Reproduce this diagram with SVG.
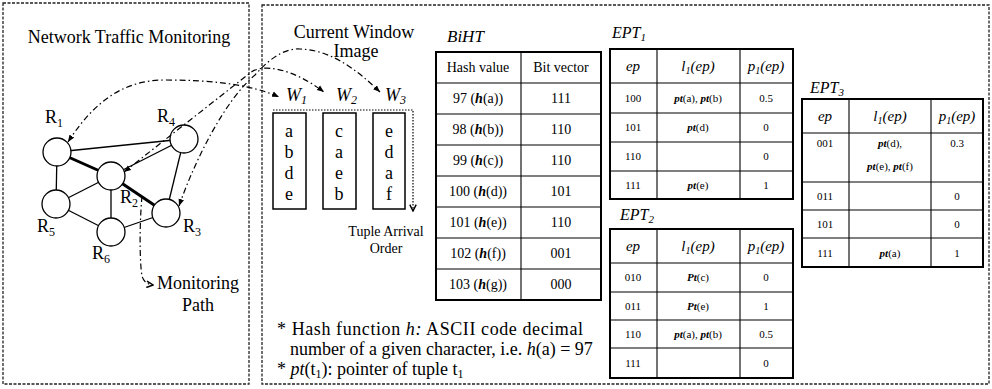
<svg xmlns="http://www.w3.org/2000/svg" width="992" height="389" viewBox="0 0 992 389" font-family="'Liberation Serif', 'DejaVu Serif', 'Times New Roman', serif">
<defs>
<style>
text{font-family:'Liberation Serif','DejaVu Serif','Times New Roman',serif;fill:#000}
.big{font-size:18px}
.mid{font-size:14px}
.sm{font-size:11px}
.hd{font-size:15px;font-style:italic}
.it{font-style:italic}
.bi{font-style:italic;font-weight:bold}
.panel{fill:none;stroke:#222;stroke-width:1.3;stroke-dasharray:3 1.5}
.edge{stroke:#000;stroke-width:1.3;fill:none}
.thick{stroke:#000;stroke-width:3;fill:none}
.node{fill:#fff;stroke:#000;stroke-width:1.3}
.mon{fill:none;stroke:#000;stroke-width:1.2;stroke-dasharray:6 3 1.5 3}
.win{fill:#fff;stroke:#000;stroke-width:1.5}
.outer{fill:none;stroke:#000;stroke-width:2}
.inner{stroke:#000;stroke-width:1.1}
</style>
<marker id="tri" viewBox="0 0 10 10" refX="10" refY="5" markerWidth="7" markerHeight="7" markerUnits="userSpaceOnUse" orient="auto-start-reverse">
<path d="M0,1 L10,5 L0,9 z" fill="#000"/>
</marker>
<marker id="chev" viewBox="0 0 10 10" refX="9" refY="5" markerWidth="8" markerHeight="8" markerUnits="userSpaceOnUse" orient="auto">
<path d="M1,1 L9,5 L1,9" fill="none" stroke="#000" stroke-width="1.8"/>
</marker>
</defs>

<!-- panels -->
<rect class="panel" x="3" y="3" width="246" height="381"/>
<rect class="panel" x="262" y="5" width="727" height="379"/>

<text class="big" x="129" y="43" text-anchor="middle">Network Traffic Monitoring</text>

<g id="connectors">
<line class="edge" x1="57" y1="152" x2="184" y2="139"/>
<line class="thick" x1="57" y1="152" x2="111" y2="176"/>
<line class="edge" x1="57" y1="152" x2="56" y2="204"/>
<line class="edge" x1="184" y1="139" x2="111" y2="176"/>
<line class="edge" x1="184" y1="139" x2="166" y2="213"/>
<line class="edge" x1="111" y1="176" x2="56" y2="204"/>
<line class="edge" x1="111" y1="176" x2="111" y2="232"/>
<line class="thick" x1="111" y1="176" x2="166" y2="213"/>
<line class="edge" x1="56" y1="204" x2="111" y2="232"/>
<line class="edge" x1="111" y1="232" x2="166" y2="213"/>
</g>

<g id="R1"><circle class="node" cx="57" cy="152" r="14"/><text class="big" x="45" y="123">R<tspan font-size="12" dy="4">1</tspan></text></g>
<g id="R4"><circle class="node" cx="184" cy="139" r="14"/><text class="big" x="157" y="122">R<tspan font-size="12" dy="4">4</tspan></text></g>
<g id="R2"><circle class="node" cx="111" cy="176" r="14"/><text class="big" x="120" y="203">R<tspan font-size="12" dy="4">2</tspan></text></g>
<g id="R5"><circle class="node" cx="56" cy="204" r="14"/><text class="big" x="37" y="232">R<tspan font-size="12" dy="4">5</tspan></text></g>
<g id="R3"><circle class="node" cx="166" cy="213" r="14"/><text class="big" x="183" y="232">R<tspan font-size="12" dy="4">3</tspan></text></g>
<g id="R6"><circle class="node" cx="111" cy="232" r="14"/><text class="big" x="92" y="259">R<tspan font-size="12" dy="4">6</tspan></text></g>

<g id="monitoring-paths">
<path class="mon" d="M68,142 C95,100 125,80 165,80 C210,80 250,84 279,97" marker-start="url(#tri)" marker-end="url(#tri)"/>
<path class="mon" d="M124,172 L250,73 C262,63 292,68 324,92" marker-start="url(#tri)" marker-end="url(#tri)"/>
<path class="mon" d="M179,206 C195,160 225,100 255,75 C270,58 285,48 300,49 C330,50 355,68 380,92" marker-start="url(#tri)" marker-end="url(#tri)"/>
<path class="mon" d="M142,196 C139,230 140,265 142,276 Q144,284 153,285" marker-end="url(#chev)"/>
</g>

<text class="big" x="157" y="289">Monitoring</text>
<text class="big" x="198" y="311" text-anchor="middle">Path</text>

<!-- window image -->
<g id="window-image">
<text class="big" x="354" y="38" text-anchor="middle">Current Window</text>
<text class="big" x="356" y="57" text-anchor="middle">Image</text>
<text class="big it" x="286" y="101">W<tspan font-size="12" dy="3">1</tspan></text>
<text class="big it" x="336" y="101">W<tspan font-size="12" dy="3">2</tspan></text>
<text class="big it" x="385" y="101">W<tspan font-size="12" dy="3">3</tspan></text>
<path d="M273,110 L413,110 L413,211" fill="none" stroke="#000" stroke-width="1.2" stroke-dasharray="1.5 1.5" marker-end="url(#chev)"/>
<rect class="win" x="273" y="113" width="33" height="96"/>
<rect class="win" x="323" y="113" width="33" height="96"/>
<rect class="win" x="373" y="113" width="32" height="96"/>
<g class="big" text-anchor="middle">
<text x="289" y="137">a</text><text x="289" y="158">b</text><text x="289" y="179">d</text><text x="289" y="200">e</text>
<text x="339" y="137">c</text><text x="339" y="158">a</text><text x="339" y="179">e</text><text x="339" y="200">b</text>
<text x="389" y="137">e</text><text x="389" y="158">d</text><text x="389" y="179">a</text><text x="389" y="200">f</text>
</g>
<text class="mid" x="386" y="236" text-anchor="middle">Tuple Arrival</text>
<text class="mid" x="386" y="253" text-anchor="middle">Order</text>
</g>

<!-- BiHT -->
<g id="BiHT">
<text x="447" y="42" font-size="17" class="it">BiHT</text>
<rect class="outer" x="436" y="52" width="165" height="248"/>
<line class="inner" x1="521" y1="52" x2="521" y2="300"/>
<line class="inner" x1="436" y1="83" x2="601" y2="83" stroke-width="1.6"/>
<line class="inner" x1="436" y1="114" x2="601" y2="114"/>
<line class="inner" x1="436" y1="145" x2="601" y2="145"/>
<line class="inner" x1="436" y1="176" x2="601" y2="176"/>
<line class="inner" x1="436" y1="207" x2="601" y2="207"/>
<line class="inner" x1="436" y1="238" x2="601" y2="238"/>
<line class="inner" x1="436" y1="269" x2="601" y2="269"/>
<g class="mid" text-anchor="middle">
<text x="478" y="72">Hash value</text><text x="561" y="72">Bit vector</text>
<text x="478" y="103">97 (<tspan class="bi">h</tspan>(a))</text><text x="561" y="103">111</text>
<text x="478" y="134">98 (<tspan class="bi">h</tspan>(b))</text><text x="561" y="134">110</text>
<text x="478" y="165">99 (<tspan class="bi">h</tspan>(c))</text><text x="561" y="165">110</text>
<text x="478" y="196">100 (<tspan class="bi">h</tspan>(d))</text><text x="561" y="196">101</text>
<text x="478" y="227">101 (<tspan class="bi">h</tspan>(e))</text><text x="561" y="227">110</text>
<text x="478" y="258">102 (<tspan class="bi">h</tspan>(f))</text><text x="561" y="258">001</text>
<text x="478" y="289">103 (<tspan class="bi">h</tspan>(g))</text><text x="561" y="289">000</text>
</g>
</g>

<!-- notes -->
<g id="notes" class="big">
<text x="277" y="335" textLength="306" lengthAdjust="spacing">* Hash function <tspan class="it">h:</tspan> ASCII code decimal</text>
<text x="290" y="355">number of a given character, i.e. <tspan class="it">h</tspan>(a) = 97</text>
<text x="277" y="375">* <tspan class="it">pt</tspan>(t<tspan font-size="12" dy="3">1</tspan><tspan dy="-3">): pointer of tuple t</tspan><tspan font-size="12" dy="3">1</tspan></text>
</g>

<!-- EPT1 -->
<g id="EPT1">
<text x="612" y="38" font-size="16" class="it">EPT<tspan font-size="11" dy="3">1</tspan></text>
<rect class="outer" x="610" y="49" width="183" height="150"/>
<line class="inner" x1="657" y1="49" x2="657" y2="199"/>
<line class="inner" x1="740" y1="49" x2="740" y2="199"/>
<line class="inner" x1="610" y1="83" x2="793" y2="83" stroke-width="1.6"/>
<line class="inner" x1="610" y1="113" x2="793" y2="113"/>
<line class="inner" x1="610" y1="142" x2="793" y2="142"/>
<line class="inner" x1="610" y1="171" x2="793" y2="171" stroke-width="1.6"/>
<g class="hd" text-anchor="middle">
<text x="633" y="71">ep</text>
<text x="698" y="71">l<tspan font-size="10" dy="3">1</tspan><tspan dy="-3">(ep)</tspan></text>
<text x="766" y="71">p<tspan font-size="10" dy="3">1</tspan><tspan dy="-3">(ep)</tspan></text>
</g>
<g class="sm" text-anchor="middle">
<text x="633" y="102">100</text><text x="698" y="102"><tspan class="bi">pt</tspan>(a), <tspan class="bi">pt</tspan>(b)</text><text x="766" y="102">0.5</text>
<text x="633" y="131">101</text><text x="698" y="131"><tspan class="bi">pt</tspan>(d)</text><text x="766" y="131">0</text>
<text x="633" y="160">110</text><text x="766" y="160">0</text>
<text x="633" y="189">111</text><text x="698" y="189"><tspan class="bi">pt</tspan>(e)</text><text x="766" y="189">1</text>
</g>
</g>

<!-- EPT2 -->
<g id="EPT2">
<text x="620" y="220" font-size="16" class="it">EPT<tspan font-size="11" dy="3">2</tspan></text>
<rect class="outer" x="610" y="229" width="183" height="149"/>
<line class="inner" x1="657" y1="229" x2="657" y2="378"/>
<line class="inner" x1="740" y1="229" x2="740" y2="378"/>
<line class="inner" x1="610" y1="263" x2="793" y2="263" stroke-width="1.6"/>
<line class="inner" x1="610" y1="292" x2="793" y2="292"/>
<line class="inner" x1="610" y1="320" x2="793" y2="320"/>
<line class="inner" x1="610" y1="348" x2="793" y2="348"/>
<g class="hd" text-anchor="middle">
<text x="633" y="251">ep</text>
<text x="698" y="251">l<tspan font-size="10" dy="3">1</tspan><tspan dy="-3">(ep)</tspan></text>
<text x="766" y="251">p<tspan font-size="10" dy="3">1</tspan><tspan dy="-3">(ep)</tspan></text>
</g>
<g class="sm" text-anchor="middle">
<text x="633" y="281">010</text><text x="698" y="281"><tspan class="bi">Pt</tspan>(c)</text><text x="766" y="281">0</text>
<text x="633" y="310">011</text><text x="698" y="310"><tspan class="bi">Pt</tspan>(e)</text><text x="766" y="310">1</text>
<text x="633" y="338">110</text><text x="698" y="338"><tspan class="bi">pt</tspan>(a), <tspan class="bi">pt</tspan>(b)</text><text x="766" y="338">0.5</text>
<text x="633" y="367">111</text><text x="766" y="367">0</text>
</g>
</g>

<!-- EPT3 -->
<g id="EPT3">
<text x="810" y="93" font-size="16" class="it">EPT<tspan font-size="11" dy="3">3</tspan></text>
<rect class="outer" x="802" y="99" width="181" height="168"/>
<line class="inner" x1="849" y1="99" x2="849" y2="267"/>
<line class="inner" x1="931" y1="99" x2="931" y2="267"/>
<line class="inner" x1="802" y1="133" x2="983" y2="133" stroke-width="1.6"/>
<line class="inner" x1="802" y1="182" x2="983" y2="182"/>
<line class="inner" x1="802" y1="210" x2="983" y2="210"/>
<line class="inner" x1="802" y1="238" x2="983" y2="238"/>
<g class="hd" text-anchor="middle">
<text x="825" y="121">ep</text>
<text x="890" y="121">l<tspan font-size="10" dy="3">1</tspan><tspan dy="-3">(ep)</tspan></text>
<text x="957" y="121">p<tspan font-size="10" dy="3">1</tspan><tspan dy="-3">(ep)</tspan></text>
</g>
<g class="sm" text-anchor="middle">
<text x="825" y="147">001</text><text x="890" y="147"><tspan class="bi">pt</tspan>(d),</text><text x="957" y="147">0.3</text>
<text x="890" y="170"><tspan class="bi">pt</tspan>(e), <tspan class="bi">pt</tspan>(f)</text>
<text x="825" y="200">011</text><text x="957" y="200">0</text>
<text x="825" y="228">101</text><text x="957" y="228">0</text>
<text x="825" y="257">111</text><text x="890" y="257"><tspan class="bi">pt</tspan>(a)</text><text x="957" y="257">1</text>
</g>
</g>
</svg>
